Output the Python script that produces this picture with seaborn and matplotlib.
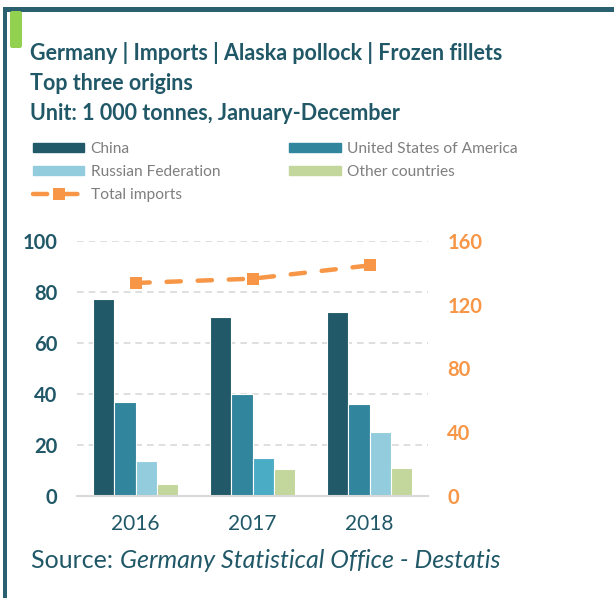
import numpy as np
import pandas as pd
import matplotlib
matplotlib.use("Agg")
import matplotlib.pyplot as plt
import seaborn as sns
from matplotlib.lines import Line2D
from matplotlib.patches import Patch, Rectangle, FancyBboxPatch

# data (1 000 tonnes)
years = ["2016", "2017", "2018"]
origins = ["China", "United States of America", "Russian Federation", "Other countries"]
china = [77.2, 70.1, 71.9]
usa = [36.8, 40.1, 36.2]
russia = [13.8, 14.8, 25.2]
others = [4.7, 10.6, 10.8]
total = [133.5, 136.2, 144.5]

C = {"China": "#215968", "United States of America": "#31859C",
     "Russian Federation": "#93CDDD", "Other countries": "#C3D69B"}
ORANGE = "#F79646"
TEAL = "#215868"
GREY = "#7F7F7F"

sns.set_theme(style="white")
plt.rcParams["font.family"] = ["Lato", "DejaVu Sans"]

df = pd.DataFrame({
    "year": years * 4,
    "origin": np.repeat(origins, len(years)),
    "value": china + usa + russia + others,
})

W, H = 614, 598
fig = plt.figure(figsize=(W / 100, H / 100), dpi=100)
ax = fig.add_axes([77 / W, 1 - 496 / H, (428 - 77) / W, (496 - 240.7) / H])

sns.barplot(data=df, x="year", y="value", hue="origin", hue_order=origins,
            palette=C, saturation=1, width=0.73, edgecolor="white",
            linewidth=0.8, legend=False, ax=ax)
# the 2017 Russian bar is drawn in a brighter blue in the original
ax.containers[2][1].set_facecolor("#4BACC6")

ax.set_ylim(0, 100)
ax.set_yticks(range(0, 101, 20))
ax.set_xlim(-0.5, 2.5)
ax.set_xlabel("")
ax.set_ylabel("")
ax.yaxis.grid(True, linestyle=(0, (4, 3)), color="#D9D9D9", linewidth=1.2)
ax.set_axisbelow(True)
for s in ["top", "right", "left"]:
    ax.spines[s].set_visible(False)
ax.spines["bottom"].set_color("#D9D9D9")
ax.spines["bottom"].set_linewidth(1.5)
ax.tick_params(axis="y", length=0, pad=14, labelsize=14.5, labelcolor=TEAL)
ax.tick_params(axis="x", length=0, pad=13, labelsize=15, labelcolor=TEAL)
for t in ax.get_yticklabels():
    t.set_fontweight("bold")

ax2 = ax.twinx()
sns.lineplot(x=np.arange(len(years)), y=total, ax=ax2, color=ORANGE,
             linewidth=3.2, marker="s", markersize=8, markeredgewidth=0)
line = ax2.lines[0]
line.set_dashes((3.2, 3.8))
line.set_dash_capstyle("round")
ax2.set_ylim(0, 160)
ax2.set_yticks(range(0, 161, 40))
ax2.set_xlim(-0.5, 2.5)
ax2.set_ylabel("")
for s in ax2.spines.values():
    s.set_visible(False)
ax2.tick_params(axis="y", length=0, pad=14, labelsize=14.5, labelcolor=ORANGE)
for t in ax2.get_yticklabels():
    t.set_fontweight("bold")

# legend
handles = [
    Patch(color=C["China"], label="China"),
    Patch(color=C["Russian Federation"], label="Russian Federation"),
    Line2D([], [], color=ORANGE, linewidth=3.2, dashes=(3.2, 3.6),
           dash_capstyle="round", marker="s", markersize=8,
           markeredgewidth=0, label="Total imports"),
    Patch(color=C["United States of America"], label="United States of America"),
    Patch(color=C["Other countries"], label="Other countries"),
]
leg = fig.legend(handles=handles, ncol=2, loc="upper left",
                 bbox_to_anchor=(33 / W, 1 - 142 / H), frameon=False,
                 fontsize=11.2, handlelength=3.3, handleheight=0.6,
                 handletextpad=0.4, columnspacing=4.45, labelspacing=0.58,
                 borderaxespad=0, borderpad=0)
for t in leg.get_texts():
    t.set_color(GREY)

# titles
for i, line_txt in enumerate(["Germany | Imports | Alaska pollock | Frozen fillets",
                              "Top three origins",
                              "Unit: 1 000 tonnes, January-December"]):
    fig.text(30 / W, 1 - (53 + 30.5 * i) / H, line_txt, fontsize=15.5,
             fontweight="bold", color=TEAL, va="center")

src = fig.text(31 / W, 1 - 560 / H, "Source: ", fontsize=18, color=TEAL,
               va="center")
fig.canvas.draw()
bb = src.get_window_extent()
fig.text(bb.x1 / W, 1 - 560 / H, "Germany Statistical Office - Destatis",
         fontsize=18, color=TEAL, style="italic", va="center")

# frame decorations
BORDER = "#2B6070"
fig.add_artist(Rectangle((3 / W, 0), 4 / W, 1 - 7 / H, transform=fig.transFigure,
                         color=BORDER, lw=0))
fig.add_artist(Rectangle((3 / W, 1 - 12 / H), 1, 4.5 / H, transform=fig.transFigure,
                         color=BORDER, lw=0))
fig.add_artist(FancyBboxPatch((10 / W, 1 - 48 / H), 12 / W, 37 / H,
                              boxstyle="round,pad=0,rounding_size=0.004",
                              transform=fig.transFigure, color="#92D050", lw=0))

fig.savefig("out.png", dpi=100)
